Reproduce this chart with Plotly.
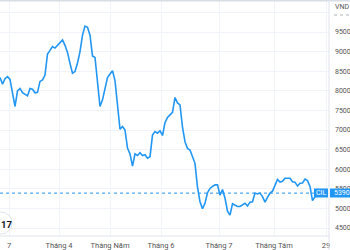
import plotly.graph_objects as go

# ---- data ----
prices = [83400, 81700, 83100, 83600, 82900, 78900, 76000, 80000, 80600, 79500,
          79000, 78700, 80600, 80400, 79500, 79600, 82400, 82800, 84000, 89400,
          90300, 91300, 90900, 91600, 92100, 93000, 91600, 89800, 87000, 84500,
          84900, 87100, 90000, 94200, 96500, 96200, 94200, 88900, 88500, 82000,
          76000, 77700, 80600, 83400, 84300, 85100, 82600, 75700, 70200, 70900,
          70000, 65400, 63900, 60800, 63900, 63500, 64200, 63500, 63700, 62800,
          63200, 68700, 69600, 69200, 69800, 68600, 71900, 73200, 74000, 74500,
          78300, 76900, 76400, 70700, 67000, 65300, 64900, 62900, 61500, 55400,
          51700, 49900, 51300, 54000, 55100, 55600, 56000, 56000, 53400, 54800,
          52600, 49300, 48300, 51200, 50900, 50500, 50500, 51000, 51300, 50600,
          51600, 51700, 53900, 53700, 53900, 53000, 51600, 52800, 53900, 54400,
          56000, 57400, 56700, 56900, 57700, 57700, 57700, 56800, 56700, 55700,
          56400, 56500, 57500, 57100, 55600, 52000, 52800, 53900]
bars = list(range(len(prices)))
last_price = 53900
symbol = "CIL"
currency = "VND"

x_tick_pos = [3.6, 23.6, 44.0, 64.4, 87.6, 109.6, 130.4]
x_tick_text = ["7", "Tháng 4", "Tháng Năm", "Tháng 6", "Tháng 7", "Tháng Tám", "29"]
y_tick_vals = [45000, 50000, 55000, 60000, 65000, 70000, 75000, 80000, 85000, 90000, 95000, 100000]
y_tick_text = [str(v) for v in y_tick_vals[:-1]] + [""]

# ---- layout geometry ----
W, H = 350, 250
PLOT_W, PLOT_H = 329, 236
BLUE = "#2196f3"
GRID = "#f0f3fa"
AXIS = "#e0e3eb"
TXT = "#555"

def px_x(p):
    return p / PLOT_W

def px_y(p):
    return 1 - p / PLOT_H

fig = go.Figure()
fig.add_trace(go.Scatter(x=bars, y=prices, mode="lines",
                         line=dict(color=BLUE, width=1.6), hoverinfo="skip"))

fig.update_layout(
    width=W, height=H,
    margin=dict(l=0, r=W - PLOT_W, t=0, b=H - PLOT_H, autoexpand=False),
    paper_bgcolor="white", plot_bgcolor="white",
    showlegend=False,
    font=dict(family="Roboto", size=7.5, color=TXT),
    xaxis=dict(range=[0, PLOT_W / 2.5], tickvals=x_tick_pos, ticktext=x_tick_text,
               showgrid=True, gridcolor=GRID, gridwidth=1, zeroline=False,
               showline=False, ticks="", ticklabelstandoff=3, automargin=False,
               tickfont=dict(size=7.5, color=TXT)),
    yaxis=dict(range=[42960, 103163], side="right", tickvals=y_tick_vals,
               ticktext=y_tick_text, showgrid=True, gridcolor=GRID, gridwidth=1,
               zeroline=False, showline=False, ticks="", ticklabelstandoff=5,
               automargin=False, tickfont=dict(size=7, color=TXT)),
)

shapes = []
# last price dotted line
shapes.append(dict(type="line", xref="paper", yref="y", x0=0, x1=1,
                   y0=last_price, y1=last_price,
                   line=dict(color=BLUE, width=1, dash="dot"), layer="below"))
# top border
shapes.append(dict(type="rect", xref="paper", yref="paper", x0=0, x1=px_x(W),
                   y0=px_y(1.5), y1=px_y(0), line=dict(width=0), fillcolor="#d9dde6"))
# right axis separator
shapes.append(dict(type="line", xref="paper", yref="paper", x0=1, x1=1,
                   y0=px_y(H), y1=px_y(1.5), line=dict(color=AXIS, width=1)))
# bottom axis line
shapes.append(dict(type="line", xref="paper", yref="paper", x0=0, x1=1,
                   y0=0, y1=0, line=dict(color=AXIS, width=1)))
# price label boxes
shapes.append(dict(type="rect", xref="paper", yref="paper", x0=px_x(314), x1=px_x(328),
                   y0=px_y(197.5), y1=px_y(188.5), line=dict(width=0), fillcolor=BLUE))
shapes.append(dict(type="rect", xref="paper", yref="paper", x0=px_x(330), x1=px_x(W),
                   y0=px_y(197.5), y1=px_y(188.5), line=dict(width=0), fillcolor=BLUE))
# dotted underline of currency label
shapes.append(dict(type="line", xref="paper", yref="paper", x0=px_x(334), x1=px_x(W),
                   y0=px_y(15), y1=px_y(15), line=dict(color="#b2b5be", width=1, dash="dot")))
# logo circle
shapes.append(dict(type="circle", xref="paper", yref="paper", x0=px_x(-10), x1=px_x(12),
                   y0=px_y(234), y1=px_y(212), line=dict(color="#e0e3eb", width=1),
                   fillcolor="white"))
fig.update_layout(shapes=shapes)

fig.add_annotation(xref="paper", yref="paper", x=px_x(321), y=px_y(193),
                   text=symbol, showarrow=False, xanchor="center", yanchor="middle",
                   font=dict(family="Roboto", size=7, color="white"))
fig.add_annotation(xref="paper", yref="paper", x=px_x(332), y=px_y(193),
                   text=str(last_price), showarrow=False, xanchor="left", yanchor="middle",
                   font=dict(family="Roboto", size=7, color="white"))
fig.add_annotation(xref="paper", yref="paper", x=px_x(333), y=px_y(7),
                   text=currency, showarrow=False, xanchor="left", yanchor="middle",
                   font=dict(family="Roboto", size=7, color=TXT))
fig.add_annotation(xref="paper", yref="paper", x=px_x(-1), y=px_y(224),
                   text="<b>17</b>", showarrow=False, xanchor="left", yanchor="middle",
                   font=dict(family="Roboto", size=9.5, color="#131722"))

fig.write_html("out.html")
